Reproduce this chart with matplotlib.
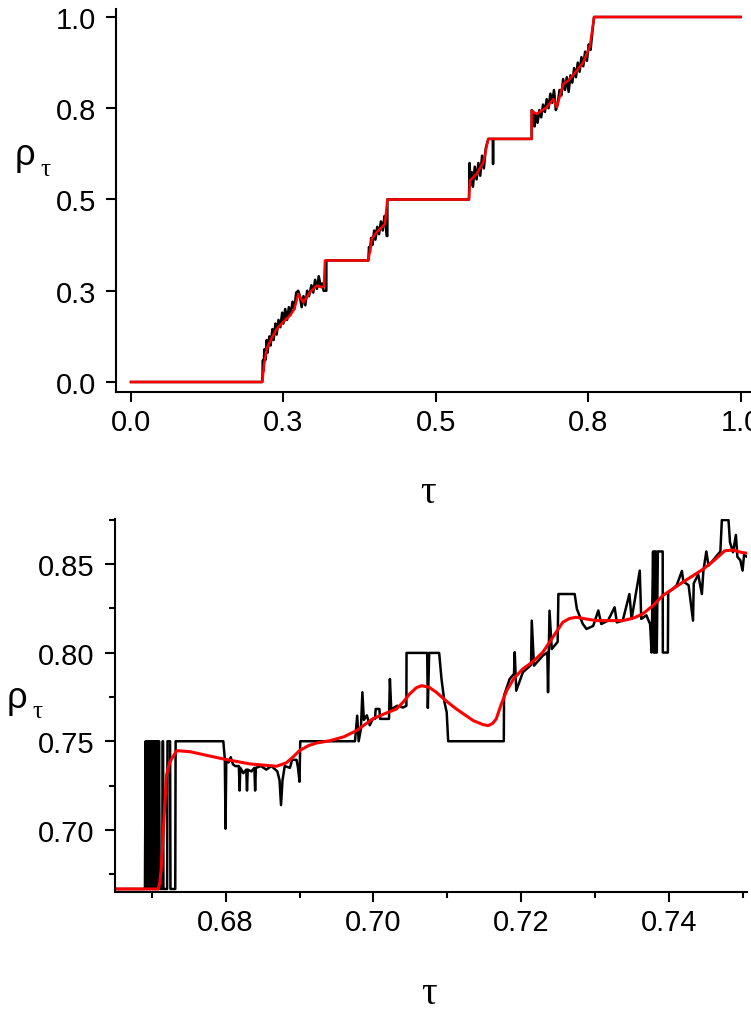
import matplotlib.pyplot as plt
from matplotlib.ticker import FixedLocator

plt.rcParams['font.family'] = ['Liberation Sans', 'DejaVu Sans']

# ---- top panel: whole tau range ----
top_red = [(0.0, 0.0), (0.2154, 0.0), (0.2185, 0.05), (0.2226, 0.09), (0.230, 0.118),
           (0.239, 0.145), (0.250, 0.165), (0.2609, 0.182), (0.268, 0.20), (0.2745, 0.241),
           (0.2827, 0.218), (0.2937, 0.246), (0.3046, 0.264), (0.3129, 0.259), (0.3165, 0.262),
           (0.3183, 0.333), (0.3894, 0.333), (0.395, 0.392), (0.4031, 0.41), (0.4167, 0.433),
           (0.4206, 0.50), (0.5545, 0.50), (0.5562, 0.552), (0.5671, 0.570), (0.578, 0.602),
           (0.5862, 0.666), (0.6574, 0.666), (0.6574, 0.743), (0.6656, 0.734), (0.682, 0.753),
           (0.6929, 0.775), (0.6984, 0.753), (0.7093, 0.816), (0.7175, 0.826), (0.7313, 0.853),
           (0.7421, 0.876), (0.7531, 0.921), (0.7597, 1.0), (1.0, 1.0)]

top_black = [(0.0, 0.0), (0.2154, 0.0), (0.2165, 0.06), (0.217, 0.03), (0.219, 0.09), (0.2205, 0.06),
             (0.2225, 0.115), (0.224, 0.08), (0.227, 0.125), (0.229, 0.10), (0.232, 0.145),
             (0.234, 0.115), (0.237, 0.16), (0.239, 0.13), (0.242, 0.17), (0.245, 0.15),
             (0.248, 0.19), (0.25, 0.16), (0.253, 0.20), (0.256, 0.17), (0.259, 0.205),
             (0.262, 0.185), (0.265, 0.22), (0.268, 0.20), (0.271, 0.245), (0.2745, 0.25),
             (0.277, 0.235), (0.28, 0.205), (0.283, 0.235), (0.286, 0.21), (0.289, 0.25),
             (0.292, 0.235), (0.296, 0.265), (0.299, 0.245), (0.302, 0.28), (0.305, 0.255),
             (0.308, 0.29), (0.311, 0.265), (0.314, 0.27), (0.316, 0.25), (0.3205, 0.25),
             (0.3205, 0.333), (0.3894, 0.333), (0.3905, 0.37), (0.392, 0.355), (0.394, 0.395),
             (0.396, 0.375), (0.399, 0.415), (0.401, 0.39), (0.404, 0.425), (0.407, 0.405),
             (0.41, 0.44), (0.413, 0.415), (0.416, 0.455), (0.418, 0.43), (0.4195, 0.40),
             (0.4206, 0.40), (0.4206, 0.5), (0.5545, 0.5), (0.5555, 0.60), (0.557, 0.54),
             (0.559, 0.575), (0.561, 0.535), (0.564, 0.59), (0.567, 0.555), (0.570, 0.60),
             (0.573, 0.565), (0.576, 0.62), (0.579, 0.585), (0.582, 0.64), (0.5862, 0.666),
             (0.5935, 0.666), (0.594, 0.597), (0.5945, 0.666), (0.6574, 0.666), (0.6574, 0.745),
             (0.660, 0.74), (0.662, 0.70), (0.664, 0.735), (0.667, 0.71), (0.670, 0.745),
             (0.673, 0.725), (0.676, 0.76), (0.679, 0.74), (0.682, 0.775), (0.685, 0.75),
             (0.688, 0.79), (0.691, 0.765), (0.694, 0.80), (0.697, 0.745), (0.700, 0.76),
             (0.703, 0.80), (0.706, 0.785), (0.709, 0.83), (0.712, 0.80), (0.715, 0.835),
             (0.718, 0.795), (0.721, 0.84), (0.724, 0.82), (0.727, 0.86), (0.730, 0.835),
             (0.733, 0.875), (0.736, 0.85), (0.739, 0.89), (0.742, 0.865), (0.745, 0.905),
             (0.748, 0.88), (0.751, 0.925), (0.754, 0.91), (0.757, 0.96), (0.7597, 1.0), (1.0, 1.0)]

top_ticks = [0.0, 0.25, 0.5, 0.75, 1.0]
top_ticklabels = ['0.0', '0.3', '0.5', '0.8', '1.0']

# ---- bottom panel: zoom on 0.665 - 0.75 ----
bot_red = [(0.665, 0.6667), (0.6709, 0.6667), (0.6711, 0.670), (0.6713, 0.678), (0.6716, 0.700),
           (0.6720, 0.7306), (0.6724, 0.7375), (0.6727, 0.740), (0.6734, 0.7447), (0.6752, 0.7441),
           (0.6775, 0.742), (0.6797, 0.740), (0.6833, 0.7372), (0.6869, 0.7359), (0.6882, 0.7378),
           (0.6891, 0.741), (0.6900, 0.7447), (0.6912, 0.7475), (0.6923, 0.749), (0.6941, 0.7503),
           (0.6960, 0.7525), (0.6977, 0.756), (0.6999, 0.7626), (0.7015, 0.7655), (0.7031, 0.7682),
           (0.7040, 0.772), (0.7049, 0.7767), (0.7058, 0.7802), (0.7065, 0.7813), (0.7075, 0.7805),
           (0.7085, 0.7776), (0.7098, 0.7728), (0.7112, 0.7682), (0.7135, 0.7616), (0.7148, 0.7594),
           (0.7155, 0.7588), (0.7161, 0.7600), (0.7166, 0.7626), (0.7172, 0.7700), (0.718, 0.7785),
           (0.7190, 0.7855), (0.7202, 0.7908), (0.7216, 0.7950), (0.7229, 0.8002), (0.7243, 0.8090),
           (0.7256, 0.8171), (0.7265, 0.8192), (0.7274, 0.8199), (0.7301, 0.8180), (0.7337, 0.8180),
           (0.7352, 0.8195), (0.7364, 0.8218), (0.7378, 0.8265), (0.7391, 0.8321), (0.7418, 0.8396),
           (0.7446, 0.8471), (0.7462, 0.8525), (0.7475, 0.8574), (0.7486, 0.8578), (0.7497, 0.8565),
           (0.7505, 0.856)]

bot_black = [(0.665, 0.6667), (0.6691, 0.6667), (0.6692, 0.75), (0.6693, 0.6667), (0.6694, 0.75),
             (0.6695, 0.6667), (0.6696, 0.75), (0.6697, 0.6667), (0.6698, 0.75), (0.6699, 0.6667),
             (0.6700, 0.75), (0.6701, 0.6667), (0.6702, 0.75), (0.6703, 0.6667), (0.6704, 0.75),
             (0.6705, 0.6667), (0.6706, 0.75), (0.6707, 0.6667), (0.6708, 0.75), (0.6709, 0.6667),
             (0.6710, 0.75), (0.6711, 0.6667), (0.67145, 0.6667), (0.6715, 0.75), (0.67155, 0.75),
             (0.6716, 0.6667), (0.6721, 0.6667), (0.67215, 0.75), (0.6725, 0.75), (0.67255, 0.6667),
             (0.6732, 0.6667), (0.67325, 0.75), (0.6797, 0.75), (0.6799, 0.74), (0.6800, 0.7007),
             (0.6801, 0.74), (0.6804, 0.738), (0.6807, 0.741), (0.681, 0.737), (0.6813, 0.736),
             (0.6818, 0.736), (0.6819, 0.7222), (0.6820, 0.735), (0.6824, 0.732), (0.6828, 0.734),
             (0.6829, 0.7222), (0.6830, 0.734), (0.6835, 0.733), (0.6839, 0.735), (0.6840, 0.7222),
             (0.6841, 0.735), (0.6848, 0.736), (0.6855, 0.734), (0.6862, 0.736), (0.6870, 0.733),
             (0.6873, 0.728), (0.6875, 0.714), (0.6877, 0.728), (0.6880, 0.736), (0.6887, 0.735),
             (0.6890, 0.7395), (0.6896, 0.7395), (0.6898, 0.735), (0.6900, 0.7272), (0.6901, 0.75),
             (0.6975, 0.75), (0.6978, 0.7644), (0.6980, 0.75), (0.6983, 0.757), (0.6985, 0.7776),
             (0.6987, 0.762), (0.6991, 0.7646), (0.6995, 0.759), (0.6999, 0.7626), (0.7002, 0.7626),
             (0.7003, 0.7682), (0.7008, 0.7682), (0.7009, 0.7626), (0.7021, 0.7626), (0.70222, 0.7851),
             (0.7024, 0.768), (0.7032, 0.770), (0.7040, 0.769), (0.70445, 0.770), (0.70447, 0.7998),
             (0.70726, 0.7998), (0.70735, 0.7688), (0.70753, 0.7998), (0.70888, 0.7998),
             (0.7092, 0.785), (0.7096, 0.772), (0.7099, 0.7663), (0.7101, 0.75), (0.71762, 0.75),
             (0.71765, 0.7757), (0.7184, 0.785), (0.7190, 0.788), (0.7191, 0.8002), (0.7193, 0.7785),
             (0.7202, 0.7889), (0.7213, 0.793), (0.7214, 0.818), (0.7217, 0.7926), (0.7229, 0.7983),
             (0.7235, 0.800), (0.7236, 0.7776), (0.7237, 0.800), (0.7238, 0.8236), (0.7241, 0.802),
             (0.7249, 0.806), (0.7250, 0.833), (0.7272, 0.833), (0.7275, 0.8246), (0.7283, 0.8161),
             (0.7288, 0.8133), (0.7297, 0.815), (0.7304, 0.8237), (0.7308, 0.8161), (0.7317, 0.818),
             (0.7326, 0.8255), (0.7329, 0.817), (0.7337, 0.818), (0.7346, 0.833), (0.7349, 0.819),
             (0.7360, 0.8462), (0.7362, 0.819), (0.7369, 0.821), (0.7374, 0.816), (0.7376, 0.80),
             (0.7378, 0.857), (0.7379, 0.80), (0.7380, 0.857), (0.7381, 0.80), (0.7382, 0.857),
             (0.7383, 0.80), (0.73845, 0.857), (0.7391, 0.857), (0.73912, 0.80), (0.7398, 0.80),
             (0.73985, 0.834), (0.7405, 0.8359), (0.7410, 0.838), (0.7417, 0.846), (0.7419, 0.840),
             (0.7426, 0.838), (0.7432, 0.818), (0.7433, 0.839), (0.7439, 0.844), (0.7444, 0.833),
             (0.7446, 0.846), (0.7450, 0.857), (0.7453, 0.849), (0.7459, 0.852), (0.7469, 0.857),
             (0.7471, 0.8747), (0.7480, 0.8747), (0.7482, 0.8622), (0.7486, 0.8566), (0.7490, 0.8663),
             (0.7492, 0.854), (0.7496, 0.852), (0.7499, 0.8462), (0.7501, 0.855), (0.7505, 0.854)]

bot_xticks = [0.68, 0.70, 0.72, 0.74]
bot_xminor = [0.67, 0.69, 0.71, 0.73, 0.75]
bot_yticks = [0.70, 0.75, 0.80, 0.85]
bot_yminor = [0.675, 0.725, 0.775, 0.825, 0.875]

W, H = 751, 1012
fig = plt.figure(figsize=(W / 100, H / 100), dpi=100)


def px_axes(l, t, r, b):
    return fig.add_axes([l / W, 1 - b / H, (r - l) / W, (b - t) / H])


def style(ax):
    for s in ['top', 'right']:
        ax.spines[s].set_visible(False)
    for s in ['left', 'bottom']:
        ax.spines[s].set_linewidth(1.5)
    ax.tick_params(which='major', direction='out', length=7.5, width=1.5, labelsize=21)
    ax.tick_params(which='minor', direction='out', length=4, width=1.5)
    ax.tick_params(axis='y', pad=7)
    ax.tick_params(axis='x', pad=4)


ax1 = px_axes(116, 10, 751, 393)
ax1.plot([p[0] for p in top_black], [p[1] for p in top_black], color='black', lw=1.8)
ax1.plot([p[0] for p in top_red], [p[1] for p in top_red], color='#ff0000', lw=1.8)
ax1.set_xlim(-0.0246, 1.0172)
ax1.set_ylim(-0.0274, 1.0219)
ax1.set_xticks(top_ticks, top_ticklabels)
ax1.set_yticks(top_ticks, top_ticklabels)
style(ax1)

ax2 = px_axes(114.6, 520, 747, 893)
ax2.plot([p[0] for p in bot_black], [p[1] for p in bot_black], color='black', lw=1.8)
ax2.plot([p[0] for p in bot_red], [p[1] for p in bot_red], color='#ff0000', lw=2.2)
ax2.set_xlim(0.665, 0.7505)
ax2.set_ylim(0.665, 0.8753)
ax2.set_xticks(bot_xticks, [f'{v:.2f}' for v in bot_xticks])
ax2.set_yticks(bot_yticks, [f'{v:.2f}' for v in bot_yticks])
ax2.xaxis.set_minor_locator(FixedLocator(bot_xminor))
ax2.yaxis.set_minor_locator(FixedLocator(bot_yminor))
style(ax2)


def label_rho(x, y, xs, ys):
    fig.text(x / W, 1 - y / H, 'ρ', fontsize=26, family='Liberation Sans', va='baseline')
    fig.text(xs / W, 1 - ys / H, 'τ', fontsize=18, family='Liberation Serif', va='baseline')


label_rho(15, 165, 40, 176)
label_rho(7, 708, 32, 718)
fig.text(428 / W, 1 - 503 / H, 'τ', fontsize=28, family='Liberation Serif', ha='center', va='baseline')
fig.text(429 / W, 1 - 1004 / H, 'τ', fontsize=28, family='Liberation Serif', ha='center', va='baseline')

fig.savefig('out.png', dpi=100)
